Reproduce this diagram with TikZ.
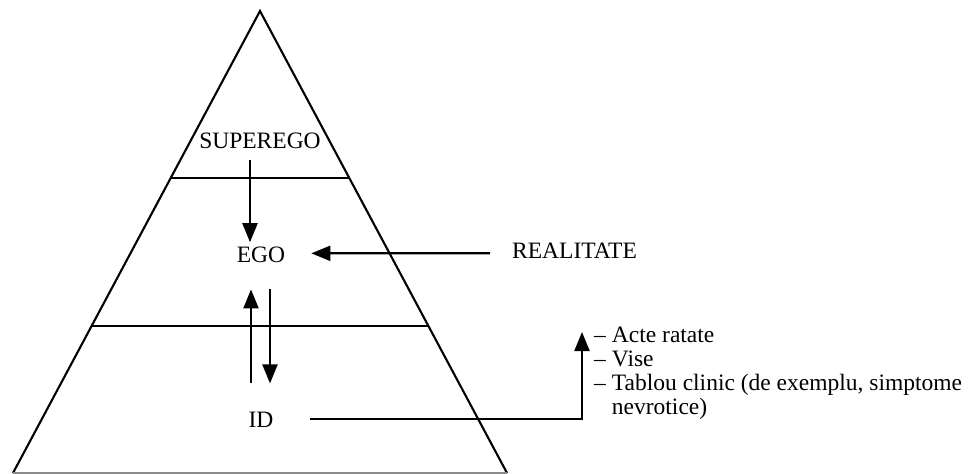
\documentclass[tikz,border=0pt]{standalone}
\usepackage{fontspec}
\setmainfont{Liberation Serif}
\usetikzlibrary{arrows.meta,calc}
\begin{document}
\begin{tikzpicture}[x=1pt,y=-1pt,
  lbl/.style={inner sep=0pt, font=\fontsize{23.5}{24}\selectfont},
  edge/.style={line width=2.1pt, line join=miter},
  arr/.style={line width=2.2pt, -{Triangle[length=19pt,width=15pt]}},
  ]
\useasboundingbox (0,0) rectangle (978,474);

% pyramid outline
\coordinate (apex) at (260,11);
\coordinate (bl) at (13,473);
\coordinate (br) at (507,473);
\draw[edge] (bl) -- (apex) -- (br);
\draw[line width=1.6pt, black!45] (bl) -- (br);

% tier boundaries
\draw[edge] ($(apex)!0.3615!(bl)$) -- ($(apex)!0.3615!(br)$);
\draw[edge] ($(apex)!0.682!(bl)$) -- ($(apex)!0.682!(br)$);

% labels
\node[lbl, anchor=base] (superego) at (260,148) {SUPEREGO};
\node[lbl, anchor=base] (ego) at (261,262) {EGO};
\node[lbl, anchor=base] (id) at (261,427) {ID};
\node[lbl, anchor=base west] (real) at (512,258) {REALITATE};
\node[lbl, anchor=base west] (list) at (594,342)
  {\begin{tabular}[t]{@{}l@{\hspace{6pt}}l@{}}
   --&Acte ratate\\
   --&Vise\\
   --&Tablou clinic (de exemplu, simptome\\
     &nevrotice)
   \end{tabular}};

% connectors
\draw[arr] ($(superego.south)+(-10,12)$) -- ($(ego.north)+(-11,-4)$);
\draw[arr] ($(ego.south)+(-10,121)$) -- ($(ego.south)+(-10,27)$);
\draw[arr] ($(ego.south)+(9,27)$) -- ($(ego.south)+(9,121)$);
\draw[arr] ($(real.west)+(-22,3)$) -- ($(ego.east)+(26,-1)$);
\draw[arr] ($(id.east)+(36,0)$) -| ($(list.base west)+(-12,-10)$);
\end{tikzpicture}
\end{document}
